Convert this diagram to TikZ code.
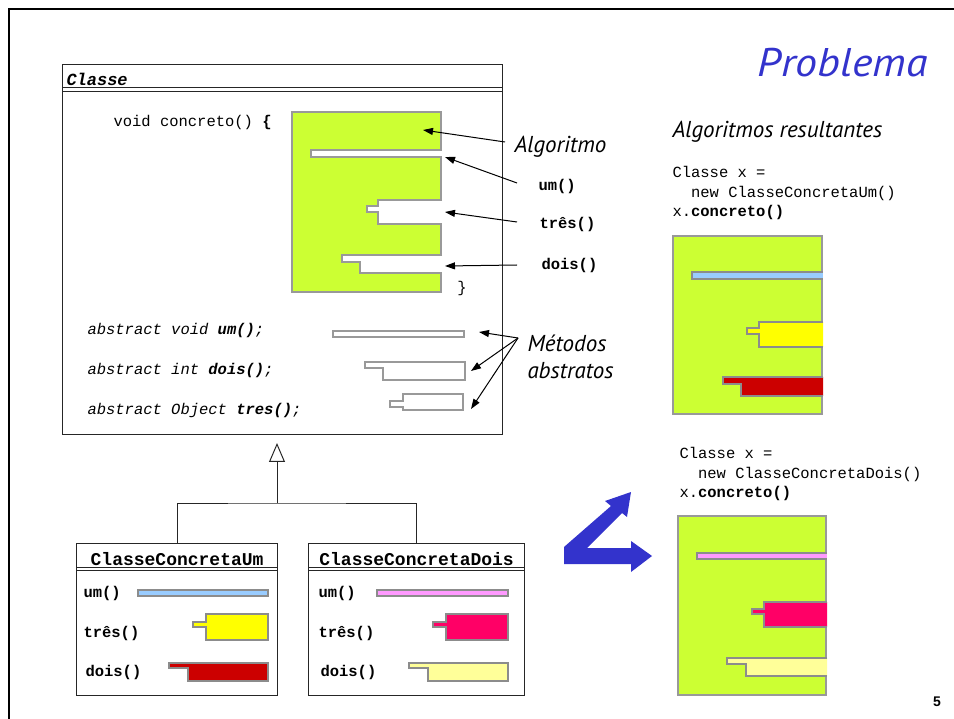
\documentclass[tikz,border=0pt]{standalone}
\usepackage{fontspec}
\setmainfont{Liberation Sans}
\setmonofont{Liberation Mono}
\newfontfamily\rotulofont{PT Sans}
\usetikzlibrary{arrows.meta, positioning}
\definecolor{algogreen}{HTML}{CCFF33}
\definecolor{umblue}{HTML}{99CCFF}
\definecolor{tresyellow}{HTML}{FFFF00}
\definecolor{doisred}{HTML}{CC0000}
\definecolor{umpink}{HTML}{FF99FF}
\definecolor{tresmagenta}{HTML}{FF0066}
\definecolor{doisyellow}{HTML}{FFFF99}
\definecolor{titleblue}{HTML}{3333CC}

\begin{document}
\begin{tikzpicture}[x=1pt, y=-1pt, >={Triangle[length=10pt,width=7pt]}, line width=1pt]
    \tikzset{umlbox/.style={draw=black!85, line width=1.2pt, inner sep=0pt, anchor=north west},
             mono/.style={font=\ttfamily\fontsize{15.5}{19.3}\selectfont, inner sep=0pt, anchor=west, align=left},
             monob/.style={mono, font=\ttfamily\bfseries\fontsize{15.5}{19.3}\selectfont},
             hd/.style={font=\ttfamily\bfseries\fontsize{18}{20}\selectfont, inner sep=0pt},
             nota/.style={font=\rotulofont\itshape\fontsize{23}{27}\selectfont, inner sep=0pt, anchor=west, align=left},
             blk/.style={draw=black!40, fill=algogreen, line width=1.2pt},
             slot/.style={draw=black!40, fill=white, line width=1.2pt},
             piece/.style={draw=black!45, line width=1.2pt}};
    \useasboundingbox (0,0) rectangle (954,719);
    \draw[line width=2.6pt] (9,719) -- (9,9) -- (954,9);
    \node[font=\rotulofont\itshape\fontsize{40}{44}\selectfont, text=titleblue, anchor=base east, inner sep=0pt] (titulo) at (928,77) {\scalebox{1.1}[1]{Problema}};
    % classe abstrata
    \node[umlbox, minimum width=440pt, minimum height=370pt] (classe) at (62,64) {};
    \node[mono, font=\ttfamily\bfseries\itshape\fontsize{17}{20}\selectfont] (classenome) at (66,79) {Classe};
    \draw[draw=black!85] ([yshift=-24pt]classe.north west) -- ([yshift=-24pt]classe.north east);
    \draw[draw=black!85] ([yshift=-28pt]classe.north west) -- ([yshift=-28pt]classe.north east);
    \node[mono] (concreto) at (113,122) {void concreto() \textbf{\{}};
    \draw[blk] (292,112) rectangle (441,292);
    \draw[slot] (442,150) -- (311,150) -- (311,157) -- (442,157);
    \draw[slot] (442,200) -- (378,200) -- (378,206) -- (367,206) -- (367,212) -- (378,212) -- (378,224) -- (442,224);
    \draw[slot] (442,255) -- (342,255) -- (342,262) -- (360,262) -- (360,273) -- (442,273);
    \node[mono, anchor=center] (fecha) at (462,288) {\}};
    \node[mono, font=\ttfamily\itshape\fontsize{15.5}{19.3}\selectfont] (absum) at (87,330) {abstract void \textbf{um()};};
    \node[mono, font=\ttfamily\itshape\fontsize{15.5}{19.3}\selectfont] (absdois) at (87,370) {abstract int \textbf{dois()};};
    \node[mono, font=\ttfamily\itshape\fontsize{15.5}{19.3}\selectfont] (abstres) at (87,410) {abstract Object \textbf{tres()};};
    \draw[slot] (333,331) rectangle (464,337);
    \draw[slot] (465,362) -- (365,362) -- (365,368) -- (383,368) -- (383,380) -- (465,380) -- cycle;
    \draw[slot] (463,394) -- (403,394) -- (403,401) -- (390,401) -- (390,407) -- (403,407) -- (403,410) -- (463,410) -- cycle;
    % rotulos e setas
    \node[nota] (algoritmo) at (514,147) {Algoritmo};
    \node[monob] (lum) at (538,186) {um()};
    \node[monob] (ltres) at (539,224) {três()};
    \node[monob] (ldois) at (541,265) {dois()};
    \node[nota, font=\rotulofont\itshape\fontsize{23}{27}\selectfont] (metodos) at (527,357) {Métodos\\abstratos};
    \coordinate (topo) at (423,130);
    \coordinate (slotum) at (445,157);
    \coordinate (slottres) at (445,212);
    \coordinate (slotdois) at (445,266);
    \coordinate (metorigem) at (518,338);
    \coordinate (absumfim) at (479,332);
    \coordinate (absdoisfim) at (471,371);
    \coordinate (abstresfim) at (471,409);
    \draw[->] ([xshift=-9pt,yshift=5pt]algoritmo.west) -- (topo);
    \draw[->] ([xshift=-21pt,yshift=3pt]lum.west) -- (slotum);
    \draw[->] ([xshift=-22pt,yshift=2pt]ltres.west) -- (slottres);
    \draw[->] ([xshift=-24pt]ldois.west) -- (slotdois);
    \draw[->] (metorigem) -- (absumfim);
    \draw[->] (metorigem) -- (absdoisfim);
    \draw[->] (metorigem) -- (abstresfim);
    % subclasses
    \node[umlbox, minimum width=201pt, minimum height=152pt] (cu) at (76,543) {};
    \node[umlbox, minimum width=216pt, minimum height=152pt] (cd) at (308,543) {};
    \node[hd] (cunome) at ([yshift=-16pt]cu.north) {ClasseConcretaUm};
    \node[hd] (cdnome) at ([yshift=-16pt]cd.north) {ClasseConcretaDois};
    \foreach \c in {cu, cd}{
        \draw[draw=black!85] ([yshift=-24.7pt]\c.north west) -- ([yshift=-24.7pt]\c.north east);
        \draw[draw=black!85] ([yshift=-27.7pt]\c.north west) -- ([yshift=-27.7pt]\c.north east);
    }
    \coordinate (juncao) at (277,503);
    \coordinate (heranca) at (277,443);
    \draw[draw=black!85] (cu.north) |- (juncao) -| (cd.north);
    \draw[draw=black!85, -{Triangle[open,length=19pt,width=16pt]}] (juncao) -- (heranca);
    \node[monob] (cuum) at (83,593) {um()};
    \node[monob] (cutres) at (83,633) {três()};
    \node[monob] (cudois) at (85,672) {dois()};
    \draw[piece, fill=umblue] (138,590) rectangle (268,596);
    \draw[piece, fill=tresyellow] (268,614) -- (206,614) -- (206,622) -- (193,622) -- (193,627) -- (206,627) -- (206,640) -- (268,640) -- cycle;
    \draw[piece, fill=doisred] (268,663) -- (169,663) -- (169,668) -- (188,668) -- (188,681) -- (268,681) -- cycle;
    \node[monob] (cdum) at (318,593) {um()};
    \node[monob] (cdtres) at (318,633) {três()};
    \node[monob] (cddois) at (320,672) {dois()};
    \draw[piece, fill=umpink] (377,590) rectangle (508,596);
    \draw[piece, fill=tresmagenta] (508,614) -- (446,614) -- (446,622) -- (433,622) -- (433,627) -- (446,627) -- (446,640) -- (508,640) -- cycle;
    \draw[piece, fill=doisyellow] (508,663) -- (409,663) -- (409,668) -- (428,668) -- (428,681) -- (508,681) -- cycle;
    % algoritmos resultantes
    \node[nota, font=\rotulofont\itshape\fontsize{23}{27}\selectfont] (resultantes) at (672,132) {Algoritmos resultantes};
    \node[mono, anchor=north west] (codum) at (672,166) {Classe x =\\\phantom{xx}new ClasseConcretaUm()\\x.\textbf{concreto()}};
    \draw[blk] (673,236) rectangle (822,414);
    \draw[piece, fill=umblue] (823,272) -- (692,272) -- (692,279) -- (823,279);
    \draw[piece, fill=tresyellow] (823,322) -- (759,322) -- (759,328) -- (747,328) -- (747,334) -- (759,334) -- (759,347) -- (823,347);
    \draw[piece, fill=doisred] (823,377) -- (723,377) -- (723,384) -- (741,384) -- (741,396) -- (823,396);
    \node[mono, anchor=north west] (coddois) at (679,447) {Classe x =\\\phantom{xx}new ClasseConcretaDois()\\x.\textbf{concreto()}};
    \draw[blk] (678,516) rectangle (826,695);
    \draw[piece, fill=umpink] (827,553) -- (697,553) -- (697,559) -- (827,559);
    \draw[piece, fill=tresmagenta] (827,602) -- (764,602) -- (764,609) -- (752,609) -- (752,614) -- (764,614) -- (764,627) -- (827,627);
    \draw[piece, fill=doisyellow] (827,658) -- (727,658) -- (727,664) -- (746,664) -- (746,676) -- (827,676);
    \fill[titleblue] (564,564) -- (631,564) -- (631,572) -- (652,556) -- (631,541) -- (631,548) -- (587,548)
        -- (622,513) -- (627,517) -- (631,492) -- (605,501) -- (611,506) -- (564,547) -- cycle;
    \node[font=\bfseries\fontsize{14}{16}\selectfont, inner sep=0pt] (pagina) at (937,702) {5};
\end{tikzpicture}
\end{document}
